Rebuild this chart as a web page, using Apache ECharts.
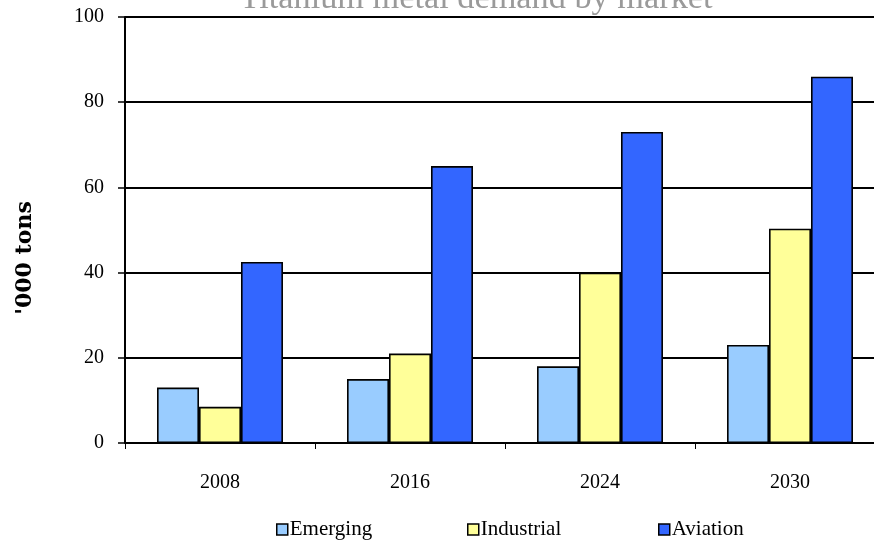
<!DOCTYPE html>
<html>
<head>
<meta charset="utf-8">
<script src="https://cdn.jsdelivr.net/npm/echarts@6/dist/echarts.min.js"></script>
<style>
  html, body { margin: 0; padding: 0; background: #fff; }
  #chart { width: 874px; height: 540px; }
</style>
</head>
<body>
<div id="chart"></div>
<script>
var years = ['2008', '2016', '2024', '2030'];
var emerging = [13, 15, 18, 23];
var industrial = [8.5, 21, 40, 50.3];
var aviation = [42.5, 65, 73, 86];
var yTicks = [0, 20, 40, 60, 80, 100];

var serif = '"Liberation Serif", "DejaVu Serif", serif';

var myChart = echarts.init(document.getElementById('chart'));

function barSeries(name, data, color) {
  return {
    name: name,
    type: 'bar',
    data: data,
    barGap: 0,
    barCategoryGap: '33.7%',
    itemStyle: {
      color: color,
      borderColor: '#000',
      borderWidth: 1.6
    }
  };
}

function legendAt(name, left) {
  return {
    data: [name],
    left: left,
    top: 519,
    icon: 'rect',
    itemWidth: 11,
    itemHeight: 11,
    itemGap: 2,
    padding: 0,
    itemStyle: { borderColor: '#000', borderWidth: 1.5 },
    textStyle: { fontFamily: serif, fontSize: 21, color: '#000', padding: [0, 0, 0, -3] }
  };
}

myChart.setOption({
  animation: false,
  title: {
    text: 'Titanium metal demand by market',
    left: 471,
    textAlign: 'center',
    top: -23,
    textStyle: {
      fontFamily: serif,
      fontSize: 34.3,
      fontWeight: 'normal',
      color: '#9a9a9a'
    }
  },
  legend: [
    legendAt('Emerging', 276),
    legendAt('Industrial', 467),
    legendAt('Aviation', 658)
  ],
  grid: {
    left: 125,
    right: -11,
    top: 17,
    bottom: 97,
    outerBoundsMode: 'none'
  },
  xAxis: {
    type: 'category',
    data: years,
    axisLine: { lineStyle: { color: '#000', width: 1.5 } },
    axisTick: { show: true, length: 6, lineStyle: { color: '#000' } },
    axisLabel: { fontFamily: serif, fontSize: 20, color: '#000', margin: 30 }
  },
  yAxis: {
    type: 'value',
    min: yTicks[0],
    max: yTicks[yTicks.length - 1],
    interval: 20,
    name: "'000 tons",
    nameLocation: 'middle',
    nameGap: 89,
    nameTextStyle: {
      fontFamily: '"DejaVu Serif", serif',
      fontSize: 22,
      fontWeight: 'bold',
      color: '#000',
      padding: [0, 56, 0, 0]
    },
    axisLine: { show: true, lineStyle: { color: '#000', width: 2 } },
    axisTick: { show: true, length: 7, lineStyle: { color: '#000', width: 1.5 } },
    axisLabel: { fontFamily: serif, fontSize: 20, color: '#000', margin: 21 },
    splitLine: { lineStyle: { color: '#000', width: 2 } }
  },
  series: [
    barSeries('Emerging', emerging, '#99CCFF'),
    barSeries('Industrial', industrial, '#FFFF99'),
    barSeries('Aviation', aviation, '#3366FF')
  ]
});
</script>
</body>
</html>
